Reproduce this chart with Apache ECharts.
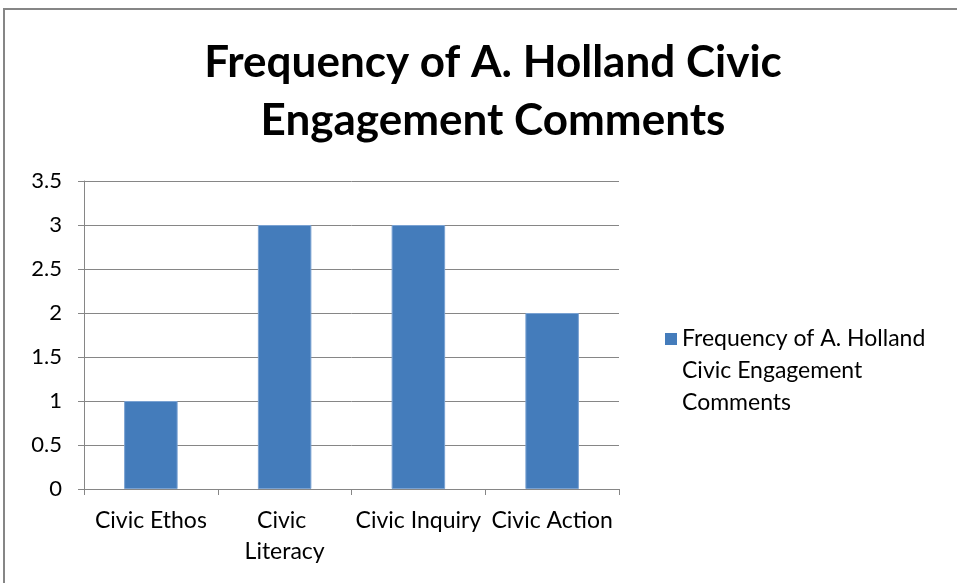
<!DOCTYPE html>
<html>
<head>
<meta charset="utf-8">
<script src="https://cdn.jsdelivr.net/npm/echarts@6/dist/echarts.min.js"></script>
<style>
  html, body { margin: 0; padding: 0; background: #fff; }
  #main { width: 957px; height: 583px; }
</style>
</head>
<body>
<div id="main"></div>
<script>
// chart data
var categories = ['Civic Ethos', 'Civic Literacy', 'Civic Inquiry', 'Civic Action'];
var frequency = [1, 3, 3, 2];
var seriesName = 'Frequency of A. Holland Civic Engagement Comments';
var titleText = 'Frequency of A. Holland Civic\nEngagement Comments';

var myChart = echarts.init(document.getElementById('main'));
var font = 'Lato, "Open Sans", sans-serif';

var option = {
    backgroundColor: '#fff',
    animation: false,
    title: {
        text: titleText,
        left: 488,
        textAlign: 'center',
        top: 29,
        textStyle: {
            fontFamily: font,
            fontWeight: 'bold',
            fontSize: 44,
            lineHeight: 58,
            color: '#000'
        }
    },
    graphic: [{
        type: 'rect',
        shape: { x: 4, y: 9, width: 1000, height: 700 },
        style: { fill: 'none', stroke: '#868686', lineWidth: 2 },
        silent: true
    }],
    legend: {
        data: [seriesName],
        left: 665,
        top: 323,
        padding: 0,
        itemWidth: 12,
        itemHeight: 76,
        // square on top, empty room below so the marker sits by the first line
        icon: 'path://M0,0h12v12h-12z M0,76h12',
        itemStyle: { borderWidth: 0 },
        formatter: function () {
            return 'Frequency of A. Holland\nCivic Engagement\nComments';
        },
        textStyle: {
            fontFamily: font,
            fontSize: 23,
            lineHeight: 32,
            color: '#000'
        }
    },
    grid: {
        left: 84,
        right: 338,
        top: 181,
        bottom: 94
    },
    xAxis: {
        type: 'category',
        data: categories,
        axisLine: { lineStyle: { color: '#868686', width: 1 } },
        axisTick: { show: true, length: 6, lineStyle: { color: '#868686' } },
        axisLabel: {
            interval: 0,
            margin: 16,
            fontFamily: font,
            fontSize: 23,
            lineHeight: 31,
            color: '#000',
            width: 130,
            overflow: 'break'
        }
    },
    yAxis: {
        type: 'value',
        min: 0,
        max: 3.5,
        interval: 0.5,
        axisLine: { show: true, lineStyle: { color: '#868686' } },
        axisTick: { show: true, length: 6, lineStyle: { color: '#868686' } },
        splitLine: { lineStyle: { color: '#868686', width: 1 } },
        axisLabel: {
            margin: 22,
            fontFamily: font,
            fontSize: 22,
            color: '#000'
        }
    },
    series: [{
        name: seriesName,
        type: 'bar',
        data: frequency,
        barWidth: '40%',
        itemStyle: {
            color: '#447cbb',
            borderColor: '#7aa2d2',
            borderWidth: 1
        }
    }]
};

myChart.setOption(option);
</script>
</body>
</html>
